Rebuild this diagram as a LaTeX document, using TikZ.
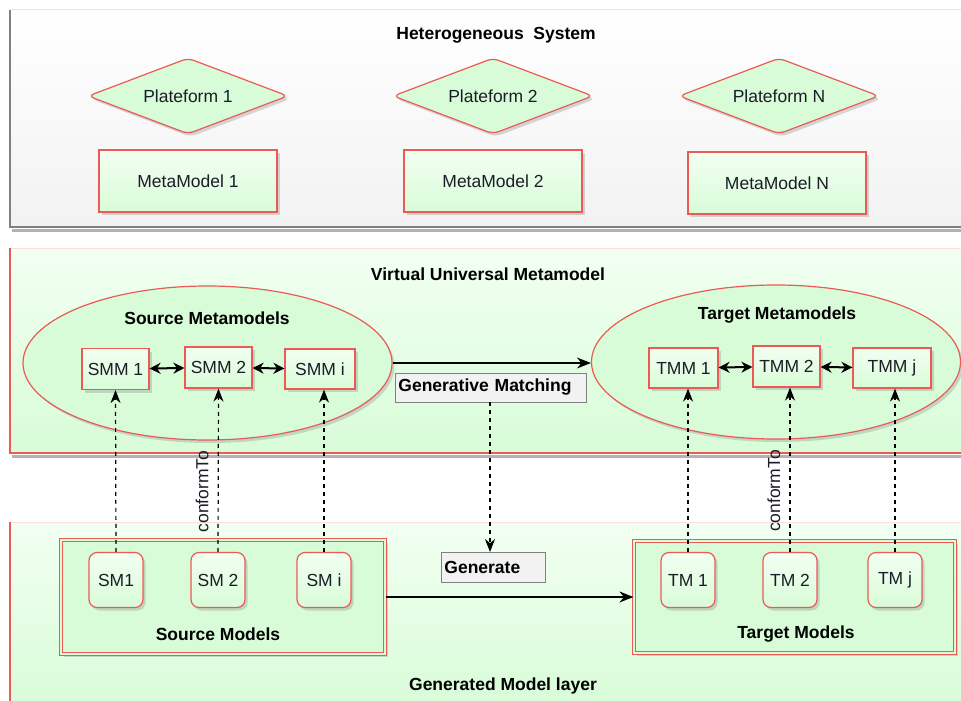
\documentclass[tikz,border=0pt]{standalone}
\usepackage{fontspec}
\setmainfont{Liberation Sans}
\usetikzlibrary{shapes.geometric,shadows,arrows.meta}

\definecolor{redline}{RGB}{236,90,86}
\definecolor{paleline}{RGB}{252,222,222}
\definecolor{greenfill}{RGB}{216,252,216}
\definecolor{greenlight}{RGB}{242,255,242}
\definecolor{grayline}{RGB}{128,128,128}
\definecolor{grayfill}{RGB}{242,242,242}
\definecolor{ink}{RGB}{28,28,40}

\tikzset{
  base/.style={font=\fontsize{17.5}{20}\selectfont, text=ink},
  title/.style={font=\bfseries\fontsize{17.5}{20}\selectfont, text=black},
  shad/.style={drop shadow={opacity=0.3, shadow xshift=2.5pt, shadow yshift=-3pt}},
  greenbox/.style={base, rectangle, draw=redline, line width=1.2pt,
    top color=greenlight, bottom color=greenfill, shad, inner sep=0pt},
  platform/.style={base, diamond, aspect=2.6, draw=redline, line width=1.2pt,
    rounded corners=6pt, fill=greenfill, shad, inner sep=0pt,
    minimum width=200pt, minimum height=76pt},
  modelbox/.style={base, rectangle, rounded corners=8pt, draw=redline, line width=1.2pt,
    top color=greenlight, bottom color=greenfill, shad, inner sep=0pt,
    minimum width=54pt, minimum height=55pt},
  group/.style={ellipse, draw=redline, line width=1.2pt, fill=greenfill, shad,
    minimum width=369pt, minimum height=154pt, inner sep=0pt},
  dblbox/.style={rectangle, draw=redline, line width=1.2pt, double=greenfill,
    double distance=2pt, fill=greenfill, shad, inner sep=0pt},
  graybox/.style={title, rectangle, draw=grayline, line width=0.8pt, fill=grayfill,
    inner sep=0pt, anchor=west},
  flow/.style={line width=1.2pt, -{Stealth[length=14pt,width=11pt]}},
  pair/.style={line width=2pt, {Stealth[length=11pt,width=11pt]}-{Stealth[length=11pt,width=11pt]}},
  conform/.style={line width=1.2pt, dash pattern=on 4pt off 4pt,
    -{Stealth[length=13pt,width=10pt]}},
  conflabel/.style={base, rotate=90, above, pos=0.37, inner sep=9pt},
}

\begin{document}
\begin{tikzpicture}[x=1pt,y=-1pt]
\useasboundingbox (0,0) rectangle (961,701);
\clip (0,0) rectangle (961,701);

% ---------- Heterogeneous System panel ----------
\fill[black, opacity=0.3] (12,229) rectangle (975,232);
\shade[top color=white, bottom color=grayfill] (10,10) rectangle (975,227);
\draw[gray!20, line width=1pt] (10,10) -- (975,10);
\draw[grayline, line width=1.3pt] (10,10) -- (10,227) -- (975,227);
\node[title] (hs) at (496,35) {Heterogeneous\hspace{0.55em}System};

\node[platform] (p1) at (188,96) {Plateform 1};
\node[platform] (p2) at (493,96) {Plateform 2};
\node[platform] (pN) at (779,96) {Plateform N};

\node[greenbox, minimum width=178pt, minimum height=62pt] (mm1) at (188,181) {MetaModel 1};
\node[greenbox, minimum width=178pt, minimum height=62pt] (mm2) at (493,181) {MetaModel 2};
\node[greenbox, minimum width=178pt, minimum height=62pt] (mmN) at (777,183) {MetaModel N};

% ---------- Virtual Universal Metamodel panel ----------
\fill[black, opacity=0.3] (12,455) rectangle (975,458);
\shade[top color=greenlight, bottom color=greenfill] (10,248) rectangle (975,453);
\draw[paleline, line width=1pt] (10,248) -- (975,248);
\draw[redline, line width=1.3pt] (10,248) -- (10,453) -- (975,453);
\node[title] (vum) at (488,274) {Virtual Universal Metamodel};

\node[group] (se) at (207.5,363) {};
\node[group] (te) at (776,362) {};
\node[title] (sel) at (207,318) {Source Metamodels};
\node[title] (tel) at (777,315) {Target Metamodels};

\node[greenbox, minimum width=67pt, minimum height=41pt] (smm1) at (115.5,369) {SMM 1};
\node[greenbox, minimum width=67pt, minimum height=41pt] (smm2) at (218.5,367.5) {SMM 2};
\node[greenbox, minimum width=70pt, minimum height=40pt] (smmi) at (320,369) {SMM i};

\node[greenbox, minimum width=69pt, minimum height=40pt] (tmm1) at (683.5,368) {TMM 1};
\node[greenbox, minimum width=67pt, minimum height=41pt] (tmm2) at (786.5,366.5) {TMM 2};
\node[greenbox, minimum width=78pt, minimum height=40pt] (tmmj) at (892,368) {TMM j};

\draw[pair] (smm1) -- (smm2);
\draw[pair] (smm2) -- (smmi);
\draw[pair] (tmm1) -- (tmm2);
\draw[pair] (tmm2) -- (tmmj);

\draw[flow] (se.east |- 0,363) -- (te.west |- 0,363);
\node[graybox, minimum width=191pt, minimum height=29pt, text width=185pt, align=left]
  (gm) at (395,387.5) {Generative Matching};

% ---------- Generated Model layer panel ----------
\shade[top color=greenlight, bottom color=greenfill] (10,522) rectangle (975,710);
\draw[paleline, line width=1pt] (10,522) -- (975,522);
\draw[redline, line width=1.3pt] (10,522) -- (10,710);
\node[title] (gml) at (503,686) {Generated Model layer};

\node[dblbox, minimum width=324pt, minimum height=114pt] (smb) at (223,597) {};
\node[dblbox, minimum width=321pt, minimum height=112pt] (tmb) at (794.5,597) {};
\node[title] (smbl) at (218,634) {Source Models};
\node[title] (tmbl) at (796,634) {Target Models};

\node[modelbox] (sm1) at (116,580) {SM1};
\node[modelbox] (sm2) at (218,580) {SM 2};
\node[modelbox] (smi) at (324,580) {SM i};
\node[modelbox] (tm1) at (688,580) {TM 1};
\node[modelbox] (tm2) at (790,580) {TM 2};
\node[modelbox] (tmj) at (895,580) {TM j};

\draw[flow] (smb.east) -- (tmb.west);

\node[graybox, minimum width=104pt, minimum height=30pt, text width=98pt, align=left]
  (gen) at (441,567) {Generate};
\coordinate (genin) at (490,552);
\draw[conform] (gm.south -| genin) -- (genin);

% conformance links
\draw[conform] (sm1.north) -- (smm1.south);
\draw[conform] (sm2.north) -- node[conflabel] {conformTo} (smm2.south);
\draw[conform] (smi.north) -- (smi.north |- smmi.south);
\draw[conform] (tm1.north) -- (tm1.north |- tmm1.south);
\draw[conform] (tm2.north) -- node[conflabel] {conformTo} (tm2.north |- tmm2.south);
\draw[conform] (tmj.north) -- (tmj.north |- tmmj.south);
\end{tikzpicture}
\end{document}
